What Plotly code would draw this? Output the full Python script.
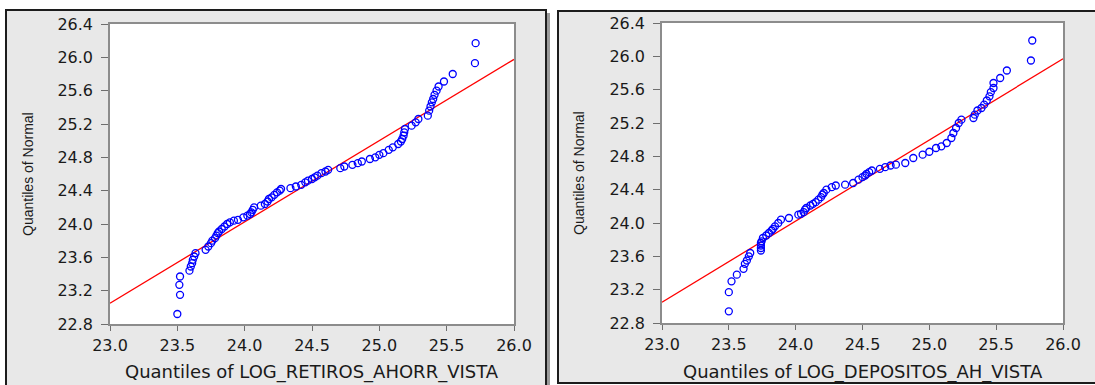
import plotly.graph_objects as go

W, H = 1095, 385

# Empirical quantiles (x) against normal quantiles (y), LOG_RETIROS_AHORR_VISTA
retiros_x = [23.50, 23.52, 23.515, 23.52, 23.59, 23.60, 23.61, 23.615, 23.625, 23.635,
             23.71, 23.73, 23.75, 23.76, 23.78, 23.79, 23.80, 23.81, 23.83, 23.85,
             23.87, 23.89, 23.92, 23.95, 23.99, 24.02, 24.04, 24.05, 24.06, 24.07,
             24.12, 24.15, 24.17, 24.18, 24.20, 24.22, 24.24, 24.26, 24.27, 24.34,
             24.38, 24.42, 24.45, 24.47, 24.50, 24.52, 24.54, 24.57, 24.60, 24.62,
             24.71, 24.74, 24.80, 24.84, 24.87, 24.93, 24.97, 25.00, 25.03, 25.07,
             25.10, 25.14, 25.16, 25.17, 25.18, 25.185, 25.19, 25.24, 25.27, 25.29,
             25.36, 25.37, 25.38, 25.39, 25.40, 25.41, 25.425, 25.44, 25.48, 25.545,
             25.71, 25.715]
retiros_q = [22.92, 23.15, 23.27, 23.37, 23.44, 23.49, 23.53, 23.57, 23.61, 23.65,
             23.69, 23.73, 23.77, 23.80, 23.83, 23.86, 23.89, 23.91, 23.94, 23.97,
             24.00, 24.02, 24.04, 24.05, 24.08, 24.10, 24.12, 24.14, 24.17, 24.20,
             24.22, 24.24, 24.27, 24.30, 24.32, 24.35, 24.38, 24.40, 24.42, 24.43,
             24.45, 24.47, 24.50, 24.52, 24.54, 24.56, 24.58, 24.61, 24.63, 24.65,
             24.67, 24.69, 24.71, 24.73, 24.75, 24.78, 24.80, 24.83, 24.85, 24.89,
             24.92, 24.96, 24.99, 25.02, 25.06, 25.10, 25.14, 25.18, 25.22, 25.26,
             25.30, 25.36, 25.41, 25.46, 25.50, 25.55, 25.60, 25.65, 25.71, 25.80,
             25.93, 26.17]

# Empirical quantiles (x) against normal quantiles (y), LOG_DEPOSITOS_AH_VISTA
depositos_x = [23.50, 23.50, 23.52, 23.56, 23.61, 23.62, 23.635, 23.65, 23.66, 23.74,
               23.74, 23.74, 23.74, 23.745, 23.755, 23.78, 23.80, 23.82, 23.83, 23.845,
               23.87, 23.89, 23.95, 24.02, 24.04, 24.06, 24.07, 24.08, 24.11, 24.13,
               24.15, 24.17, 24.19, 24.20, 24.21, 24.23, 24.27, 24.30, 24.37, 24.43,
               24.47, 24.50, 24.52, 24.53, 24.55, 24.57, 24.63, 24.67, 24.71, 24.75,
               24.82, 24.88, 24.95, 25.00, 25.05, 25.09, 25.13, 25.165, 25.18, 25.20,
               25.22, 25.24, 25.33, 25.34, 25.36, 25.39, 25.41, 25.43, 25.45, 25.46,
               25.48, 25.48, 25.53, 25.58, 25.76, 25.77]
depositos_q = [22.94, 23.17, 23.30, 23.38, 23.45, 23.51, 23.55, 23.60, 23.64, 23.67,
               23.70, 23.73, 23.76, 23.78, 23.82, 23.85, 23.88, 23.91, 23.93, 23.96,
               24.00, 24.04, 24.06, 24.10, 24.11, 24.13, 24.16, 24.18, 24.21, 24.23,
               24.25, 24.28, 24.31, 24.34, 24.36, 24.40, 24.43, 24.45, 24.46, 24.48,
               24.52, 24.55, 24.57, 24.59, 24.61, 24.63, 24.65, 24.67, 24.69, 24.70,
               24.72, 24.78, 24.82, 24.855, 24.90, 24.92, 24.96, 25.02, 25.08, 25.14,
               25.20, 25.24, 25.26, 25.30, 25.35, 25.38, 25.42, 25.47, 25.52, 25.57,
               25.62, 25.68, 25.74, 25.83, 25.95, 26.19]

# Fitted reference lines
line_x = [23.0, 26.0]
retiros_line = [23.05, 25.975]
depositos_line = [23.05, 25.97]

x_ticks = [23.0, 23.5, 24.0, 24.5, 25.0, 25.5, 26.0]
y_ticks = [22.8, 23.2, 23.6, 24.0, 24.4, 24.8, 25.2, 25.6, 26.0, 26.4]

x_titles = ["Quantiles of LOG_RETIROS_AHORR_VISTA", "Quantiles of LOG_DEPOSITOS_AH_VISTA"]
y_title = "Quantiles of Normal"


def px(x):
    return x / W


def py(y):
    return 1 - y / H


fig = go.Figure()

panels = [
    dict(xs=retiros_x, qs=retiros_q, line=retiros_line, box=(110, 514, 24, 324)),
    dict(xs=depositos_x, qs=depositos_q, line=depositos_line, box=(662, 1063, 23, 323)),
]

for i, p in enumerate(panels):
    sfx = "" if i == 0 else str(i + 1)
    fig.add_trace(go.Scatter(
        x=line_x, y=p["line"], mode="lines",
        line=dict(color="#ff0000", width=1.3),
        xaxis="x" + sfx, yaxis="y" + sfx, showlegend=False, hoverinfo="skip"))
    fig.add_trace(go.Scatter(
        x=p["xs"], y=p["qs"], mode="markers",
        marker=dict(symbol="circle-open", size=7, color="#0000ff",
                    line=dict(width=1.3, color="#0000ff")),
        xaxis="x" + sfx, yaxis="y" + sfx, showlegend=False))

axis_common = dict(showgrid=False, zeroline=False, showline=True, mirror=True,
                   automargin=False,
                   linecolor="#8c8c8c", linewidth=1.5, ticks="outside",
                   tickcolor="#6e6e6e", tickwidth=1.3, tickformat=".1f",
                   tickfont=dict(family="DejaVu Sans", size=16, color="#1a1a1a"))

layout_axes = {}
for i, p in enumerate(panels):
    sfx = "" if i == 0 else str(i + 1)
    x0, x1, y0, y1 = p["box"]
    layout_axes["xaxis" + sfx] = dict(
        axis_common, domain=[px(x0), px(x1)], range=[23.0, 26.0],
        tickvals=x_ticks, ticklen=5, ticklabelstandoff=1,
        anchor="y" + sfx)
    layout_axes["yaxis" + sfx] = dict(
        axis_common, domain=[py(y1), py(y0)], range=[22.8, 26.4],
        tickvals=y_ticks, ticklen=7, ticklabelstandoff=5,
        anchor="x" + sfx)

shapes = [
    # left panel frame with drop shadow
    dict(type="rect", xref="paper", yref="paper", x0=px(547), x1=px(550),
         y0=py(395), y1=py(13), fillcolor="#9a9a9a", line=dict(width=0), layer="below"),
    dict(type="rect", xref="paper", yref="paper", x0=px(6), x1=px(546),
         y0=py(395), y1=py(10), fillcolor="#e8e8e8",
         line=dict(color="#1c1c1c", width=2), layer="below"),
    # right panel frame
    dict(type="rect", xref="paper", yref="paper", x0=px(558), x1=px(1110),
         y0=py(383), y1=py(11), fillcolor="#e8e8e8",
         line=dict(color="#1c1c1c", width=2), layer="below"),
]
for p in panels:
    x0, x1, y0, y1 = p["box"]
    shapes.append(dict(type="rect", xref="paper", yref="paper",
                       x0=px(x0), x1=px(x1), y0=py(y1), y1=py(y0),
                       fillcolor="#ffffff", line=dict(width=0), layer="below"))

annotations = []
for i, (p, t, ty_x) in enumerate(zip(panels, x_titles, [28, 579])):
    x0, x1, y0, y1 = p["box"]
    annotations.append(dict(
        text=t, xref="paper", yref="paper", x=px((x0 + x1) / 2), y=py(372),
        xanchor="center", yanchor="middle", showarrow=False,
        font=dict(family="DejaVu Sans", size=18, color="#1a1a1a")))
    annotations.append(dict(
        text=y_title, xref="paper", yref="paper", x=px(ty_x), y=py((y0 + y1) / 2),
        xanchor="center", yanchor="middle", textangle=-90, showarrow=False,
        font=dict(family="Liberation Sans", size=14, color="#1a1a1a")))

fig.update_layout(
    width=W, height=H,
    margin=dict(l=0, r=0, t=0, b=0, autoexpand=False),
    paper_bgcolor="#ffffff", plot_bgcolor="rgba(0,0,0,0)",
    shapes=shapes, annotations=annotations,
    **layout_axes,
)

fig.write_html("out.html")
